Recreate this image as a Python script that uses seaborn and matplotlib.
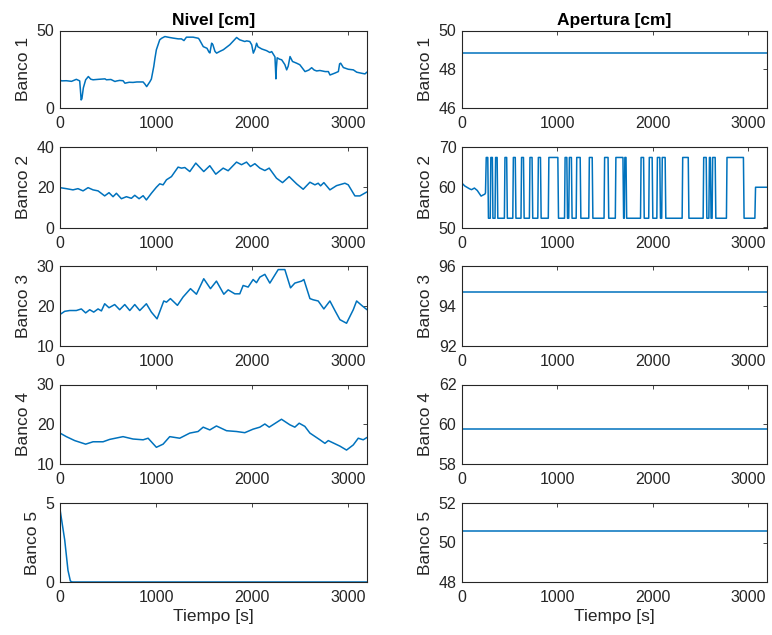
import matplotlib
matplotlib.use("Agg")
import matplotlib.pyplot as plt
import pandas as pd
import seaborn as sns

# ---------------- data ----------------
tiempo_max = 3195
xticks = [0, 1000, 2000, 3000]
bancos = ["Banco 1", "Banco 2", "Banco 3", "Banco 4", "Banco 5"]

nivel1_t = [0, 17, 66, 120, 170, 205, 212, 220, 228, 243, 267, 295, 320, 344, 400, 468, 483, 530, 572, 587,
            620, 656, 676, 720, 760, 800, 865, 884, 902, 920, 936, 951, 976, 988, 1003, 1038, 1058, 1092, 1140,
            1177, 1231, 1264, 1290, 1316, 1335, 1385, 1439, 1448, 1491, 1530, 1551, 1560, 1578, 1590, 1613, 1630,
            1663, 1700, 1767, 1838, 1870, 1923, 1943, 1975, 1995, 2012, 2030, 2046, 2060, 2099, 2150, 2184, 2203,
            2237, 2243, 2247, 2252, 2260, 2285, 2307, 2340, 2359, 2375, 2394, 2420, 2463, 2496, 2550, 2590, 2619,
            2645, 2671, 2705, 2760, 2793, 2810, 2860, 2897, 2910, 2921, 2949, 3000, 3053, 3088, 3140, 3174, 3195]
nivel1_v = [18.0, 17.5, 17.6, 17.2, 18.5, 17.5, 12.0, 5.2, 6.0, 13.0, 18.2, 20.3, 18.6, 18.2, 18.5, 18.8, 18.2,
            18.4, 17.1, 17.4, 17.8, 17.6, 16.0, 16.6, 16.5, 16.8, 16.8, 15.4, 13.8, 15.5, 17.0, 18.7, 26.8, 32.0,
            37.6, 44.0, 45.0, 46.1, 45.5, 45.1, 44.6, 44.6, 43.5, 45.7, 45.7, 45.7, 45.0, 44.4, 39.6, 38.5, 36.0,
            35.5, 41.8, 41.0, 36.5, 35.4, 36.5, 37.6, 40.8, 45.5, 44.0, 42.9, 43.3, 42.9, 40.8, 35.4, 38.0, 41.8,
            39.5, 38.1, 37.0, 35.8, 36.4, 33.0, 25.0, 18.8, 26.0, 32.4, 31.5, 31.1, 28.0, 24.6, 27.0, 33.2, 30.0,
            28.9, 27.9, 23.5, 24.5, 26.0, 24.5, 23.9, 24.2, 23.5, 23.5, 21.3, 22.5, 23.5, 28.5, 28.9, 26.1, 25.0,
            24.6, 23.1, 22.4, 22.0, 23.2]

nivel2_t = [0, 66, 135, 187, 240, 292, 344, 396, 465, 510, 552, 587, 639, 691, 743, 778, 823, 865, 899, 951,
            1003, 1038, 1073, 1108, 1160, 1229, 1264, 1299, 1351, 1413, 1496, 1559, 1621, 1698, 1750, 1837, 1889,
            1941, 1982, 2028, 2080, 2132, 2177, 2253, 2316, 2385, 2462, 2531, 2601, 2653, 2687, 2712, 2746, 2809,
            2878, 2965, 3000, 3069, 3121, 3195]
nivel2_v = [19.8, 19.3, 18.7, 19.3, 18.2, 19.8, 18.7, 18.2, 15.7, 17.3, 15.3, 17.0, 14.3, 15.3, 14.5, 16.0, 14.3,
            15.8, 13.7, 17.0, 20.0, 21.7, 21.2, 23.7, 25.3, 30.0, 29.5, 29.8, 27.8, 32.0, 27.8, 30.7, 26.5, 29.5,
            28.2, 32.5, 31.2, 32.5, 30.3, 31.7, 29.5, 28.3, 29.5, 24.5, 22.3, 25.3, 21.7, 19.0, 22.5, 21.2, 22.0,
            20.7, 22.3, 18.7, 20.8, 22.0, 21.2, 15.7, 15.7, 17.7]

nivel3_t = [0, 49, 101, 170, 222, 267, 309, 351, 396, 431, 465, 510, 569, 621, 674, 726, 778, 830, 899, 951, 1010,
            1080, 1108, 1149, 1222, 1281, 1358, 1420, 1496, 1566, 1628, 1705, 1750, 1819, 1871, 1906, 1958, 2010,
            2045, 2080, 2132, 2184, 2271, 2340, 2399, 2444, 2514, 2538, 2601, 2635, 2687, 2746, 2809, 2861, 2913,
            2982, 3052, 3087, 3139, 3195]
nivel3_v = [17.8, 18.6, 18.8, 18.8, 19.2, 18.2, 19.0, 18.4, 19.2, 18.7, 20.5, 19.5, 20.3, 19.0, 20.3, 18.8, 20.3,
            18.8, 20.5, 18.4, 16.7, 21.2, 20.9, 21.8, 20.1, 22.2, 24.3, 22.9, 26.8, 24.3, 26.2, 22.9, 24.0, 23.0,
            23.0, 25.1, 24.7, 26.6, 25.8, 27.2, 27.9, 25.7, 29.1, 29.1, 24.5, 25.7, 26.2, 26.6, 21.8, 21.5, 21.2,
            19.2, 21.2, 18.8, 16.5, 15.6, 19.0, 21.2, 20.1, 19.0]

nivel4_t = [0, 66, 153, 267, 344, 448, 517, 656, 760, 865, 917, 1003, 1073, 1142, 1246, 1351, 1437, 1490, 1559,
            1628, 1733, 1837, 1923, 2010, 2080, 2132, 2177, 2305, 2392, 2444, 2489, 2548, 2601, 2705, 2757, 2792,
            2913, 2982, 3052, 3104, 3156, 3195]
nivel4_v = [17.7, 16.8, 15.8, 14.9, 15.5, 15.5, 16.1, 16.8, 16.2, 16.0, 16.4, 14.1, 14.9, 16.8, 16.4, 17.7, 18.1,
            19.2, 18.5, 19.5, 18.3, 18.1, 17.8, 18.7, 19.2, 20.0, 19.2, 21.2, 19.8, 19.2, 20.2, 19.4, 17.7, 16.0,
            15.1, 15.8, 14.4, 13.4, 14.7, 16.4, 16.0, 16.6]

nivel5_t = [0, 49, 83, 108, 128, 3195]
nivel5_v = [4.6, 2.66, 0.74, 0.06, 0.0, 0.0]

apertura1_v = 48.83
apertura3_v = 94.69
apertura4_v = 59.77
apertura5_v = 50.59

apertura2_t = [0, 30, 80, 100, 130, 160, 200, 215, 240, 246,
               254, 270, 277, 296, 302, 318, 324, 346, 352, 368, 375, 444, 450, 468, 475, 532, 538, 558, 565,
               618, 624, 644, 651, 706, 712, 734, 741, 794, 800, 822, 829, 904, 910, 1004, 1011, 1074, 1080,
               1098, 1105, 1118, 1125, 1146, 1153, 1196, 1202, 1238, 1245, 1328, 1334, 1364, 1371, 1488, 1494,
               1530, 1537, 1606, 1612, 1686, 1693, 1700, 1706, 1718, 1725, 1870, 1876, 1902, 1909, 1956, 1962,
               1992, 1999, 2041, 2047, 2072, 2079, 2092, 2098, 2128, 2135, 2306, 2312, 2370, 2377, 2526, 2532,
               2558, 2565, 2586, 2592, 2602, 2609, 2620, 2626, 2652, 2659, 2770, 2776, 2948, 2955, 3068, 3075,
               3195]
apertura2_v = [61.0, 60.3, 59.6, 59.4, 59.8, 59.2, 57.8, 58.0, 58.3, 58.6,
               67.4, 67.4, 52.3, 52.3, 67.4, 67.4, 52.3, 52.3, 67.4, 67.4, 52.3, 52.3, 67.4, 67.4, 52.3, 52.3,
               67.4, 67.4, 52.3, 52.3, 67.4, 67.4, 52.3, 52.3, 67.4, 67.4, 52.3, 52.3, 67.4, 67.4, 52.3, 52.3,
               67.4, 67.4, 52.3, 52.3, 67.4, 67.4, 52.3, 52.3, 67.4, 67.4, 52.3, 52.3, 67.4, 67.4, 52.3, 52.3,
               67.4, 67.4, 52.3, 52.3, 67.4, 67.4, 52.3, 52.3, 67.4, 67.4, 52.3, 52.3, 67.4, 67.4, 52.3, 52.3,
               67.4, 67.4, 52.3, 52.3, 67.4, 67.4, 52.3, 52.3, 67.4, 67.4, 52.3, 52.3, 67.4, 67.4, 52.3, 52.3,
               67.4, 67.4, 52.3, 52.3, 67.4, 67.4, 52.3, 52.3, 67.4, 67.4, 52.3, 52.3, 67.4, 67.4, 52.3, 52.3,
               67.4, 67.4, 52.3, 52.3, 60.0, 60.0]

nivel_ylim = [(0, 50), (0, 40), (10, 30), (10, 30), (0, 5)]
nivel_yticks = [[0, 50], [0, 20, 40], [10, 20, 30], [10, 20, 30], [0, 5]]
apert_ylim = [(46, 50), (50, 70), (92, 96), (58, 62), (48, 52)]
apert_yticks = [[46, 48, 50], [50, 60, 70], [92, 94, 96], [58, 60, 62], [48, 50, 52]]

# ---------------- style ----------------
sns.set_style("white")
plt.rcParams["font.family"] = ["Liberation Sans", "DejaVu Sans"]
TXT = "#262626"
LINE = "#0072BD"
plt.rcParams.update({"font.size": 12, "text.color": TXT, "axes.labelcolor": TXT,
                     "xtick.color": TXT, "ytick.color": TXT, "axes.edgecolor": TXT})

W, H = 772, 635
fig = plt.figure(figsize=(W / 100, H / 100), dpi=100)
fig.patch.set_facecolor("white")

rows_px = [(30.5, 108), (147, 227.5), (266, 345.5), (384.5, 463.5), (503, 582)]
cols_px = [(60, 367), (462, 767)]

nivel = [(nivel1_t, nivel1_v), (nivel2_t, nivel2_v), (nivel3_t, nivel3_v),
         (nivel4_t, nivel4_v), (nivel5_t, nivel5_v)]
apertura = [([0, tiempo_max], [apertura1_v] * 2), (apertura2_t, apertura2_v),
            ([0, tiempo_max], [apertura3_v] * 2), ([0, tiempo_max], [apertura4_v] * 2),
            ([0, tiempo_max], [apertura5_v] * 2)]


def make_ax(col, row):
    (x0, x1), (y0, y1) = cols_px[col], rows_px[row]
    return fig.add_axes([x0 / W, 1 - y1 / H, (x1 - x0) / W, (y1 - y0) / H])


for r in range(5):
    for c, series, ylims, yt in [(0, nivel, nivel_ylim, nivel_yticks), (1, apertura, apert_ylim, apert_yticks)]:
        ax = make_ax(c, r)
        t, v = series[r]
        df = pd.DataFrame({"t": t, "v": v})
        sns.lineplot(data=df, x="t", y="v", ax=ax, color=LINE, linewidth=1.1,
                     estimator=None, sort=False)
        ax.set_xlim(0, tiempo_max)
        ax.set_ylim(*ylims[r])
        ax.set_xticks(xticks)
        ax.set_yticks(yt[r])
        ax.tick_params(direction="in", top=True, right=True, length=3, width=0.6,
                       labelsize=11.5)
        ax.tick_params(axis="x", pad=6)
        ax.tick_params(axis="y", pad=4)
        for s in ax.spines.values():
            s.set_linewidth(0.8)
            s.set_color(TXT)
        ax.set_ylabel(bancos[r], fontsize=12.5, labelpad=4)
        ax.set_xlabel("Tiempo [s]" if r == 4 else "", fontsize=12.5, labelpad=3)
        if r == 0:
            ax.set_title("Nivel [cm]" if c == 0 else "Apertura [cm]", fontsize=12.5,
                         fontweight="bold", pad=4, color="black")

fig.savefig("out.png", dpi=100)
